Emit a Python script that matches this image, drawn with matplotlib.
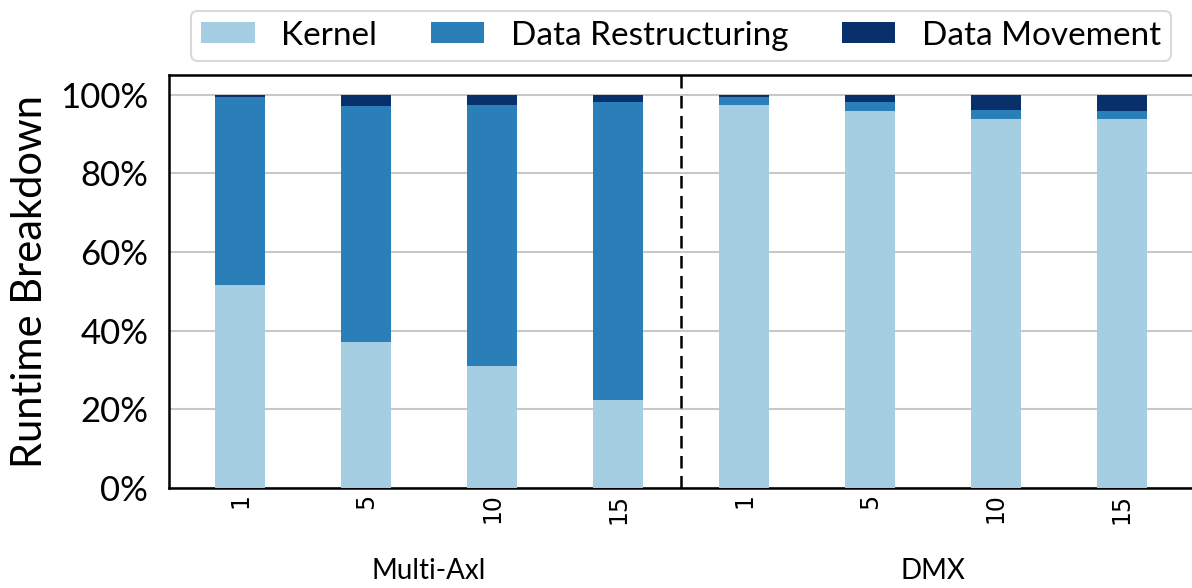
import matplotlib
matplotlib.use("Agg")
import matplotlib.pyplot as plt
import matplotlib.transforms as mtransforms
import numpy as np

# Runtime breakdown (% of total) per configuration
groups = ["Multi-Axl", "DMX"]
tick_labels = ["1", "5", "10", "15", "1", "5", "10", "15"]
kernel = [51.5, 37.0, 30.9, 22.4, 97.4, 95.9, 93.9, 93.9]
restructuring = [47.9, 60.2, 66.5, 75.8, 2.1, 2.3, 2.3, 2.0]
movement = [0.6, 2.8, 2.6, 1.8, 0.5, 1.8, 3.8, 4.1]
series_names = ["Kernel", "Data Restructuring", "Data Movement"]
colors = ["#a6cee3", "#2b7fb8", "#08306b"]
yticks = [0, 20, 40, 60, 80, 100]

main_font = ["Lato", "DejaVu Sans"]

fig = plt.figure(figsize=(11.92, 5.88), dpi=100)
ax = fig.add_axes([0.1418, 0.1701, 0.8590, 0.7023])

x = np.arange(len(tick_labels))
width = 0.4
bottom = np.zeros(len(x))
handles = []
for vals, name, c in zip([kernel, restructuring, movement], series_names, colors):
    h = ax.bar(x, vals, width, bottom=bottom, color=c, label=name, zorder=3)
    handles.append(h)
    bottom += np.array(vals)

ax.set_xlim(-0.565, len(x) - 0.435)
ax.set_ylim(0, 105)
ax.set_yticks(yticks)
ax.set_yticklabels([f"{v}%" for v in yticks], fontfamily=main_font, fontsize=25)
ax.yaxis.grid(True, color="#c8c8c8", linewidth=1.5, zorder=0)
ax.set_axisbelow(True)

ax.set_xticks(x)
ax.set_xticklabels(tick_labels, rotation=90, fontfamily="DejaVu Sans", fontsize=17)
ax.tick_params(axis="x", length=0, pad=4)
ax.tick_params(axis="y", length=0, pad=15)

for side in ["left", "bottom", "top"]:
    ax.spines[side].set_linewidth(1.8)
    ax.spines[side].set_color("black")
ax.spines["right"].set_visible(False)

# separator between the two systems
ax.axvline(3.5, color="black", linestyle=(0, (5, 3)), linewidth=1.8, zorder=4)

ax.set_ylabel("Runtime Breakdown", fontfamily=main_font, fontsize=30, labelpad=8)

trans = mtransforms.blended_transform_factory(ax.transData, ax.transAxes)
ax.text(1.5, -0.20, groups[0], transform=trans, ha="center", va="center",
        fontfamily=main_font, fontsize=20)
ax.text(5.5, -0.20, groups[1], transform=trans, ha="center", va="center",
        fontfamily=main_font, fontsize=20)

leg = ax.legend(handles=handles, loc="lower center", bbox_to_anchor=(0.5, 1.035),
                ncol=3, frameon=True, fancybox=True,
                prop={"family": main_font, "size": 24},
                handlelength=1.6, handleheight=0.58, handletextpad=0.8,
                columnspacing=1.6, borderpad=0.3, borderaxespad=0)
leg.get_frame().set_edgecolor("#d0d0d0")
leg.get_frame().set_linewidth(1.5)

fig.savefig("out.png", dpi=100)
